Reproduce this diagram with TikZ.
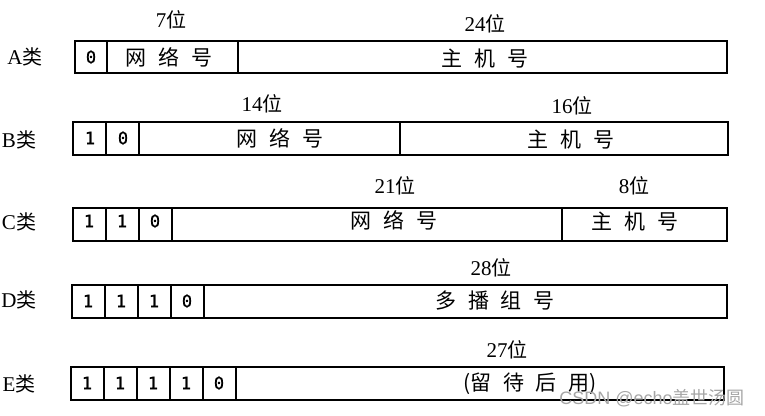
\documentclass[tikz,border=0pt]{standalone}
\usepackage{fontspec}
\setmainfont{Liberation Serif}
\newfontfamily\cjk{Noto Sans CJK SC}
\newfontfamily\bitfont{DejaVu Sans Mono}[FakeBold=1.2]
\newfontfamily\wmfont{Liberation Sans}
\begin{document}
\begin{tikzpicture}[x=1pt,y=-1pt,
  box/.style={line width=1.5pt},
  cls/.style={font=\fontsize{21}{21}\selectfont, anchor=center, inner sep=0pt},
  bits/.style={font=\fontsize{21}{21}\selectfont, anchor=center, inner sep=0pt},
  field/.style={font=\cjk\fontsize{21}{21}\selectfont, anchor=center, inner sep=0pt},
  bitcell/.style={font=\bitfont\fontsize{17}{17}\selectfont, anchor=center, inner sep=0pt}]
\useasboundingbox (0,0) rectangle (765,415);
\newcommand{\lei}{{\cjk\fontsize{20}{20}\selectfont 类}}
\newcommand{\wei}{{\cjk\fontsize{20}{20}\selectfont 位}}
% ---- A
\node[cls] (la) at (25,57) {A\lei};
\draw[box] (75,41) rectangle (727,73);
\draw[box] (107,41) -- (107,73);
\draw[box] (238,41) -- (238,73);
\node[bitcell] (a0) at (91,57) {0};
\node[field] (anet) at (169,57) {网\hspace{0.55em}络\hspace{0.55em}号};
\node[field] (ahost) at (485,59) {主\hspace{0.55em}机\hspace{0.55em}号};
\node[bits] (a7) at (171,20) {7\wei};
\node[bits] (a24) at (485,24) {24\wei};
% ---- B
\node[cls] (lb) at (19,140) {B\lei};
\draw[box] (73,122) rectangle (728,155);
\draw[box] (106,122) -- (106,155);
\draw[box] (139,122) -- (139,155);
\draw[box] (400,122) -- (400,155);
\node[bitcell] (b1) at (90,138) {1};
\node[bitcell] (b2) at (123,138) {0};
\node[field] (bnet) at (280,138) {网\hspace{0.55em}络\hspace{0.55em}号};
\node[field] (bhost) at (571,140) {主\hspace{0.55em}机\hspace{0.55em}号};
\node[bits] (b14) at (262,104) {14\wei};
\node[bits] (b16) at (572,106) {16\wei};
% ---- C
\node[cls] (lc) at (19,222) {C\lei};
\draw[box] (73,208) rectangle (727,241);
\draw[box] (106,208) -- (106,241);
\draw[box] (139,208) -- (139,241);
\draw[box] (172,208) -- (172,241);
\draw[box] (562,208) -- (562,241);
\node[bitcell] (c1) at (89,221) {1};
\node[bitcell] (c2) at (122,221) {1};
\node[bitcell] (c3) at (155,221) {0};
\node[field] (cnet) at (394,220) {网\hspace{0.55em}络\hspace{0.55em}号};
\node[field] (chost) at (635,222) {主\hspace{0.55em}机\hspace{0.55em}号};
\node[bits] (c21) at (395,186) {21\wei};
\node[bits] (c8) at (634,186) {8\wei};
% ---- D
\node[cls] (ld) at (19,300) {D\lei};
\draw[box] (72,285) rectangle (727,318);
\draw[box] (105,285) -- (105,318);
\draw[box] (138,285) -- (138,318);
\draw[box] (171,285) -- (171,318);
\draw[box] (204,285) -- (204,318);
\node[bitcell] (d1) at (88,301) {1};
\node[bitcell] (d2) at (121,301) {1};
\node[bitcell] (d3) at (154,301) {1};
\node[bitcell] (d4) at (187,301) {0};
\node[field] (dmc) at (495,301) {多\hspace{0.55em}播\hspace{0.55em}组\hspace{0.55em}号};
\node[bits] (d28) at (491,268) {28\wei};
% ---- E
\node[cls] (le) at (19,384) {E\lei};
\draw[box] (71,367) rectangle (724,400);
\draw[box] (104,367) -- (104,400);
\draw[box] (137,367) -- (137,400);
\draw[box] (170,367) -- (170,400);
\draw[box] (203,367) -- (203,400);
\draw[box] (236,367) -- (236,400);
\node[bitcell] (e1) at (87,383) {1};
\node[bitcell] (e2) at (120,383) {1};
\node[bitcell] (e3) at (153,383) {1};
\node[bitcell] (e4) at (186,383) {1};
\node[bitcell] (e5) at (219,383) {0};
\node[field] (eres) at (530,384) {(留\hspace{0.55em}待\hspace{0.55em}后\hspace{0.55em}用)};
\node[bits] (e27) at (507,350) {27\wei};
% ---- watermark
\node[font=\wmfont\fontsize{18}{18}\selectfont, text=black!35, inner sep=0pt, anchor=center] (wm) at (652,398) {CSDN @echo{\cjk 盖世汤圆}};
\end{tikzpicture}
\end{document}
